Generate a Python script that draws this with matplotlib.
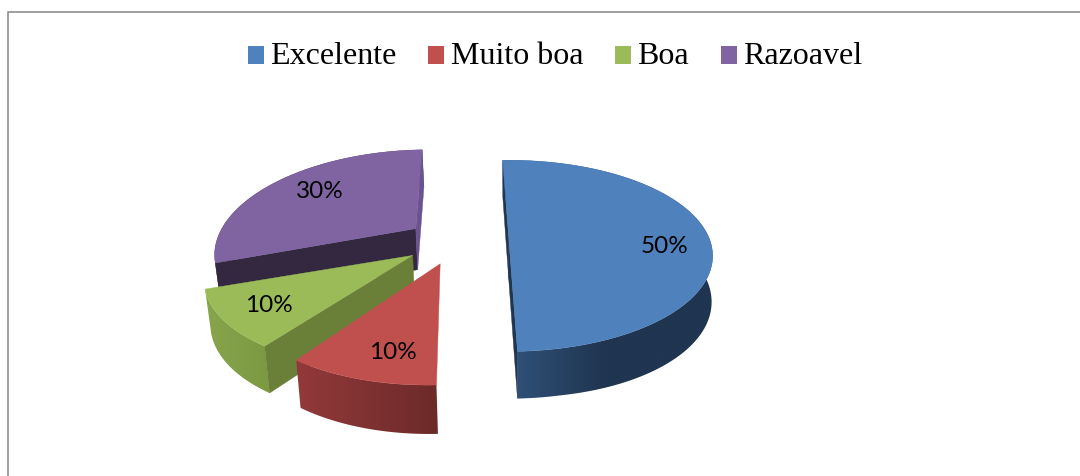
import numpy as np
import matplotlib
matplotlib.use("Agg")
import matplotlib.pyplot as plt
from matplotlib.patches import Patch, Polygon

categories = ["Excelente", "Muito boa", "Boa", "Razoavel"]
values = [50, 10, 10, 30]
labels = ["50%", "10%", "10%", "30%"]
explode = [0.25, 0.25, 0.25, 0.22]

top_colors = ["#4f81bd", "#c0504d", "#9bbb59", "#8064a2"]
wall_left = ["#2f4f76", "#93393a", "#87a54b", "#33283f"]
wall_right = ["#1f3550", "#6c2a29", "#7c9a42", "#33283f"]
wall_flat_after = [0.45, 1.0, 1.0, 1.0]
edge_start = ["#1f3550", None, "#6a8038", "#33283f"]
edge_end = ["#1f3550", None, None, "#6a5490"]
radius = [0.95, 1.0, 0.95, 0.97]
rx_scale = [0.98, 0.93, 0.985, 0.93]
label_pos = [0.73, 0.78, 0.74, 0.70]
label_angle_shift = [8, -4, 0, 4]
vanish_x = [508.0, 490.0, 490.0, 490.0]
apex_nudge_y = [-2.0, 0.0, 0.0, 0.0]

START = -2.0
CX, CY, RX, RY, K = 455.0, 241.5, 215.0, 97.0, 0.2
draw_order = [3, 2, 1, 0]

fig = plt.figure(figsize=(10.8, 4.77), dpi=100)
ax = fig.add_axes([0, 0, 1, 1])
ax.axis("off")

ax.plot([7.5, 7.5, 1080], [477, 12.5, 12.5], color="#868686", lw=1.1, solid_joinstyle="miter")


def proj(a, theta, r, f, vx):
    t = np.radians(theta)
    u, v = np.sin(t), np.cos(t)
    s = 1.0 / (1.0 + K * v * r)
    return a[0] + RX * f * r * u * s + (a[0] - vx) * (s - 1), a[1] - RY * r * v * s


def lower(x, y):
    shift = 0.02 * (510 - x) if x < 510 else 0.005 * (510 - x)
    extra = 0.08 * max(x - 560, 0)
    return x + shift, y + 41 + 0.05 * (y - 228) + extra * 0.3


def mix(c1, c2, t):
    a = np.array(matplotlib.colors.to_rgb(c1))
    b = np.array(matplotlib.colors.to_rgb(c2))
    return a + (b - a) * t


total = sum(values)
bounds = START + np.concatenate([[0], np.cumsum(values)]) * 360.0 / total

for i in draw_order:
    z = draw_order.index(i) * 4
    t0, t1 = bounds[i], bounds[i + 1]
    mid = np.radians((t0 + t1) / 2)
    apex = (CX + explode[i] * np.sin(mid) * RX,
            CY - explode[i] * np.cos(mid) * RY + apex_nudge_y[i])
    thetas = np.linspace(t0, t1, 120)
    pts = np.array([proj(apex, th, radius[i], rx_scale[i], vanish_x[i]) for th in thetas])
    low = np.array([lower(x, y) for x, y in pts])
    alow = lower(*apex)

    # outer wall: a horizontal colour gradient clipped to the wall's outline
    vis = np.cos(np.radians(thetas)) < 0.35
    xs = pts[vis, 0] if vis.any() else pts[:, 0]
    xmin, xmax = xs.min(), xs.max()
    wall = Polygon(np.vstack([pts, low[::-1]]), closed=True, fc="none", ec="none",
                   transform=ax.transData)
    ax.add_patch(wall)
    ex0, ex1 = min(pts[:, 0].min(), low[:, 0].min()) - 1, max(pts[:, 0].max(), low[:, 0].max()) + 1
    ey0, ey1 = min(pts[:, 1].min(), low[:, 1].min()) - 1, max(pts[:, 1].max(), low[:, 1].max()) + 1
    grid = np.linspace(ex0, ex1, 200)
    tt = np.clip((grid - xmin) / max(xmax - xmin, 1) / wall_flat_after[i], 0, 1)
    rgb = np.array([mix(wall_left[i], wall_right[i], q) for q in tt])[None, :, :]
    im = ax.imshow(rgb, extent=[ex0, ex1, ey1, ey0], aspect="auto", zorder=2 + z,
                   interpolation="bilinear")
    im.set_clip_path(wall)

    for idx, col in ((0, edge_start[i]), (-1, edge_end[i])):
        if col is not None:
            ax.add_patch(Polygon([pts[idx], apex, alow, low[idx]], closed=True,
                                 fc=col, ec=col, lw=0.3, zorder=3 + z))

    ax.add_patch(Polygon(np.vstack([[apex], pts]), closed=True, fc=top_colors[i],
                         ec=top_colors[i], lw=0.3, zorder=4 + z))

    lx, ly = proj(apex, (t0 + t1) / 2 + label_angle_shift[i], label_pos[i], rx_scale[i], vanish_x[i])
    ax.text(lx, ly, labels[i], ha="center", va="center", family="Lato",
            fontsize=17.5, color="black", zorder=40)

ax.set_xlim(0, 1080)
ax.set_ylim(477, 0)

handles = [Patch(fc=c, ec=c, lw=0) for c in top_colors]
leg = ax.legend(handles, categories, loc="center", bbox_to_anchor=(555 / 1080, 1 - 57 / 477),
                ncol=4, frameon=False, prop={"family": "Liberation Serif", "size": 23},
                handlelength=0.5, handleheight=0.5, handletextpad=0.2,
                columnspacing=1.0, borderpad=0, borderaxespad=0)
for p in leg.get_patches():
    p.set_y(p.get_y() - 2)

fig.savefig("out.png", dpi=100)
